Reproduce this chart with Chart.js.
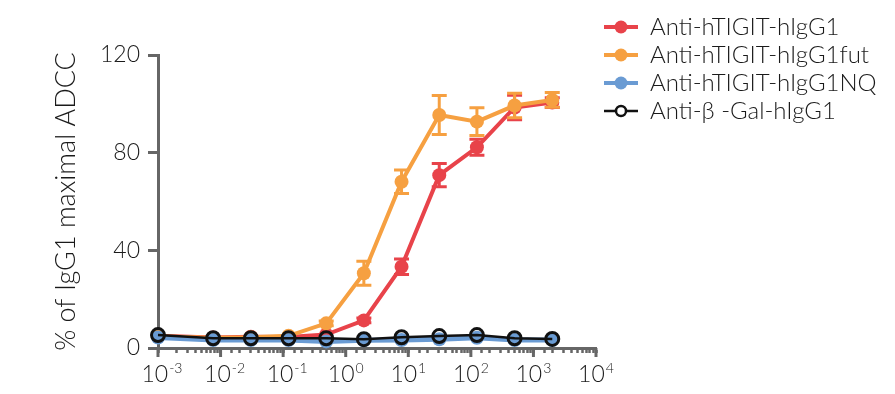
<!DOCTYPE html>
<html>
<head>
<meta charset="utf-8">
<script src="https://cdn.jsdelivr.net/npm/chart.js@4.4.1/dist/chart.umd.min.js"></script>
<style>
  html, body { margin: 0; padding: 0; background: #fff; }
  #wrap { width: 895px; height: 394px; }
</style>
</head>
<body>
<div id="wrap"><canvas id="chart1"></canvas></div>
<script>
// antibody concentration (4-fold dilution), first point sits on the axis start
const concs = [0.001, 0.0076, 0.0305, 0.122, 0.488, 1.95, 7.8, 31.25, 125, 500, 2000];

const seriesNames = ['Anti-hTIGIT-hIgG1', 'Anti-hTIGIT-hIgG1fut', 'Anti-hTIGIT-hIgG1NQ', 'Anti-\u03B2 -Gal-hIgG1'];

// % of IgG1 maximal ADCC
const hIgG1 = [5.0, 4.3, 4.6, 4.5, 5.5, 11.3, 33.3, 70.8, 82.2, 98.5, 100.5];
const hIgG1Err = [0, 0, 0, 0, 0, 1.0, 3.2, 4.8, 3.3, 5.0, 2.0];
const hIgG1fut = [4.8, 4.2, 4.4, 5.0, 10.1, 30.6, 68.1, 95.4, 92.7, 99.3, 101.6];
const hIgG1futErr = [0, 0, 0, 0, 1.0, 4.9, 4.8, 8.0, 5.7, 5.0, 3.0];
const hIgG1NQ = [4.3, 3.3, 3.3, 3.3, 2.7, 3.2, 3.3, 3.6, 4.2, 3.3, 3.3];
const betaGal = [5.3, 4.0, 4.0, 4.0, 4.0, 3.6, 4.4, 4.9, 5.3, 4.0, 3.7];

const xTickExps = [-3, -2, -1, 0, 1, 2, 3, 4];
const yTicks = [0, 40, 80, 120];

const colors = ['#E8434A', '#F6A041', '#6A9BD3', '#111111'];
const axisGray = '#666666';
const textColor = '#1a1a1a';
const legendFont = '300 24px Lato';

// error bars per dataset index
const errs = [hIgG1Err, hIgG1futErr, null, null];

function toPoints(vals) {
  return vals.map((v, i) => ({ x: concs[i], y: v }));
}

// little line+dot icons for the legend (5px blank on the left)
function makeIcon(color, open) {
  const c = document.createElement('canvas');
  c.width = 38; c.height = 16;
  const g = c.getContext('2d');
  g.strokeStyle = color;
  g.lineWidth = open ? 2.5 : 4;
  g.beginPath(); g.moveTo(4, 8); g.lineTo(38, 8); g.stroke();
  g.beginPath(); g.arc(21, 8, open ? 5 : 6.5, 0, Math.PI * 2);
  if (open) {
    g.fillStyle = '#fff'; g.fill(); g.stroke();
  } else {
    g.fillStyle = color; g.fill();
  }
  return c;
}
const icons = [makeIcon(colors[0]), makeIcon(colors[1]), makeIcon(colors[2]), makeIcon(colors[3], true)];

// error bars, long decade ticks and 10^n labels
const extras = {
  id: 'extras',
  beforeDatasetDraw(chart, args) {
    const e = errs[args.index];
    if (!e) return;
    const ds = chart.data.datasets[args.index];
    const xs = chart.scales.x, ys = chart.scales.y, ctx = chart.ctx;
    ctx.save();
    ctx.strokeStyle = ds.borderColor;
    ctx.lineWidth = 3;
    e.forEach((err, i) => {
      if (!err) return;
      const px = xs.getPixelForValue(concs[i]);
      const top = ys.getPixelForValue(ds.data[i].y + err);
      const bot = ys.getPixelForValue(ds.data[i].y - err);
      ctx.beginPath();
      ctx.moveTo(px, top); ctx.lineTo(px, bot);
      ctx.moveTo(px - 7.5, top); ctx.lineTo(px + 7.5, top);
      ctx.moveTo(px - 7.5, bot); ctx.lineTo(px + 7.5, bot);
      ctx.stroke();
    });
    ctx.restore();
  },
  afterDraw(chart) {
    const xs = chart.scales.x, ctx = chart.ctx;
    const y0 = chart.chartArea.bottom;
    ctx.save();
    ctx.strokeStyle = axisGray;
    ctx.lineWidth = 3;
    ctx.fillStyle = textColor;
    ctx.textBaseline = 'alphabetic';
    xTickExps.forEach(p => {
      const px = xs.getPixelForValue(Math.pow(10, p));
      ctx.beginPath(); ctx.moveTo(px, y0); ctx.lineTo(px, y0 + 9); ctx.stroke();
      ctx.font = '300 23px Lato';
      const wb = ctx.measureText('10').width;
      ctx.font = '300 14px Lato';
      const ex = String(p);
      const we = ctx.measureText(ex).width;
      const x0 = px - (wb + we + 1) / 2 + (p < 0 ? 4 : 0);
      ctx.font = '300 23px Lato';
      ctx.fillText('10', x0, 382);
      ctx.font = '300 14px Lato';
      ctx.fillText(ex, x0 + wb + 1, 373);
    });
    ctx.restore();
  }
};

function build() {
  // work out legend width so the plot area ends near x = 596
  const m = document.createElement('canvas').getContext('2d');
  m.font = legendFont;
  const textW = Math.max(...seriesNames.map(s => m.measureText(s).width));
  const legPad = 4;
  const legendW = legPad + 38 + 12 + textW + 10;
  const padRight = Math.max(0, 895 - 596 - legendW);

  new Chart(document.getElementById('chart1'), {
    type: 'line',
    data: {
      datasets: [
        { label: seriesNames[0], data: toPoints(hIgG1), borderColor: colors[0], backgroundColor: colors[0],
          borderWidth: 4, pointRadius: 7, pointBorderWidth: 0, order: 4 },
        { label: seriesNames[1], data: toPoints(hIgG1fut), borderColor: colors[1], backgroundColor: colors[1],
          borderWidth: 4, pointRadius: 7, pointBorderWidth: 0, order: 3 },
        { label: seriesNames[2], data: toPoints(hIgG1NQ), borderColor: colors[2], backgroundColor: colors[2],
          borderWidth: 5, pointRadius: 7, pointBorderWidth: 0, order: 2 },
        { label: seriesNames[3], data: toPoints(betaGal), borderColor: colors[3], backgroundColor: 'rgba(0,0,0,0)',
          borderWidth: 2.5, pointRadius: 6.5, pointBorderWidth: 3, order: 1 }
      ]
    },
    options: {
      animation: false,
      responsive: true,
      maintainAspectRatio: false,
      clip: false,
      layout: { padding: { top: 11, right: padRight, left: 0, bottom: 0 } },
      elements: { line: { tension: 0 } },
      scales: {
        x: {
          type: 'logarithmic',
          min: 0.001,
          max: 10000,
          border: { color: axisGray, width: 3 },
          grid: { drawOnChartArea: false, tickLength: 5, tickColor: axisGray, tickWidth: 2.5 },
          ticks: { autoSkip: false, maxRotation: 0, callback: () => '' },
          afterFit: s => { s.height = 46; }
        },
        y: {
          min: 0,
          max: 120,
          afterBuildTicks: s => { s.ticks = yTicks.map(v => ({ value: v })); },
          border: { color: axisGray, width: 3 },
          grid: { drawOnChartArea: false, tickLength: 10, tickColor: axisGray, tickWidth: 3 },
          ticks: { color: textColor, padding: 8, font: { family: 'Lato', size: 23, weight: 300 } },
          title: {
            display: true,
            text: '% of IgG1 maximal ADCC',
            color: textColor,
            font: { family: 'Lato', size: 27, weight: 300 },
            padding: { top: 50, bottom: 0 }
          },
          afterFit: s => { s.width = 158; }
        }
      },
      plugins: {
        title: { display: true, text: '', font: { size: 10 }, padding: { top: 0, bottom: 32 } },
        tooltip: { enabled: false },
        legend: {
          position: 'right',
          align: 'start',
          maxWidth: 360,
          labels: {
            usePointStyle: true,
            pointStyleWidth: 38,
            padding: legPad,
            color: textColor,
            font: { family: 'Lato', size: 24, weight: 300 },
            sort: (a, b) => a.datasetIndex - b.datasetIndex,
            generateLabels: chart => {
              const items = Chart.defaults.plugins.legend.labels.generateLabels(chart);
              items.forEach(it => { it.pointStyle = icons[it.datasetIndex]; });
              return items;
            }
          }
        }
      }
    },
    plugins: [extras]
  });
}

Promise.all([
  document.fonts.load('300 24px Lato'),
  document.fonts.load('300 14px Lato')
]).then(build, build);
</script>
</body>
</html>
